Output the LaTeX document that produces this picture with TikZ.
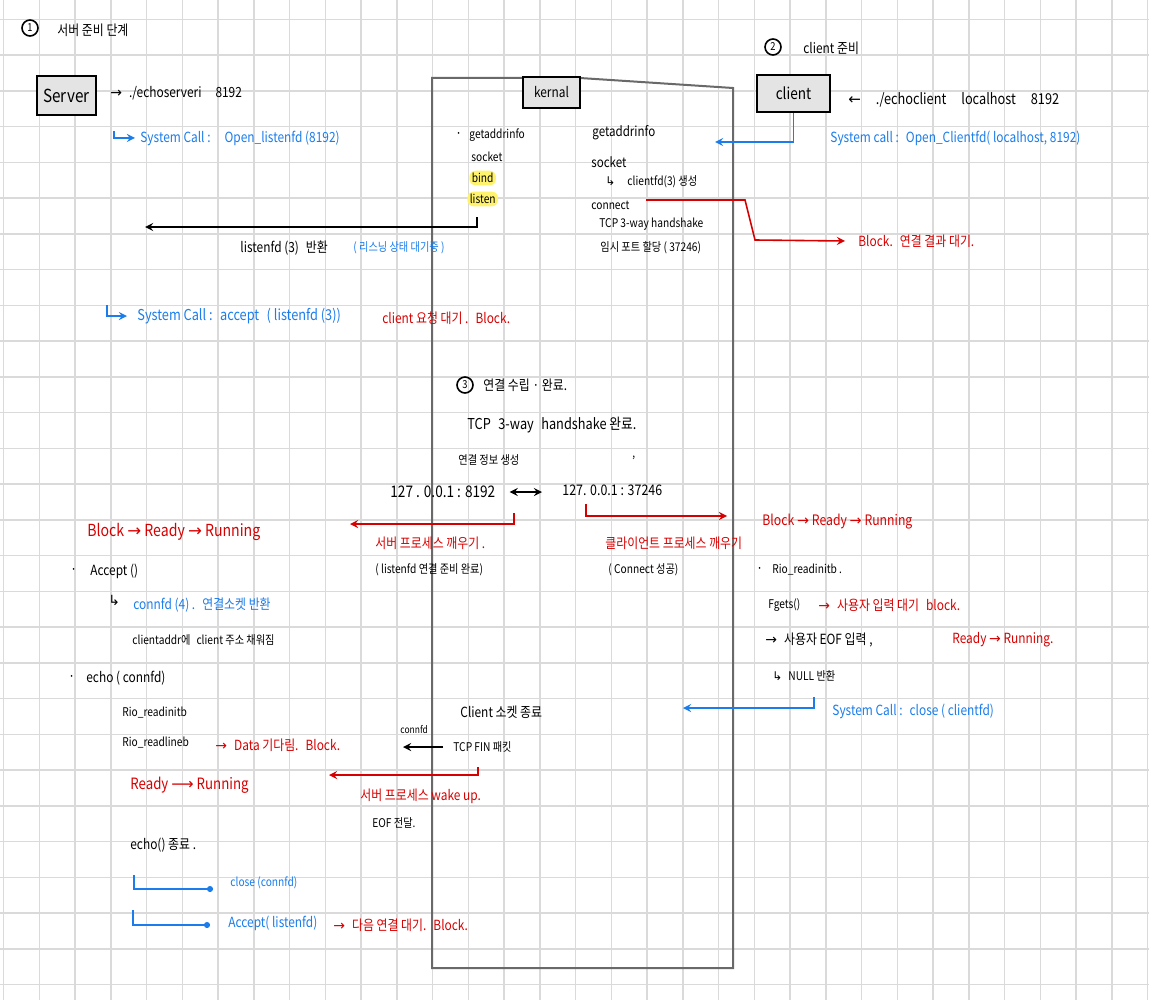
\documentclass[tikz,border=0pt]{standalone}
\usepackage{fontspec}
\setmainfont[FakeStretch=0.85]{Noto Sans CJK KR}
\newfontfamily\arwfont{DejaVu Sans}
\usetikzlibrary{calc}
\usetikzlibrary{arrows.meta}

\definecolor{blueink}{RGB}{26,125,235}
\definecolor{redink}{RGB}{215,0,0}
\definecolor{gridgray}{RGB}{218,218,218}
\definecolor{kgray}{RGB}{105,105,105}
\definecolor{boxfill}{RGB}{228,228,228}
\definecolor{hilite}{RGB}{255,243,110}

\begin{document}
\begin{tikzpicture}[x=0.5pt, y=-0.5pt, >=stealth,
    note/.style={anchor=west, inner sep=0pt, font=\fontsize{7}{8}\selectfont},
    small/.style={font=\fontsize{6}{7}\selectfont},
    big/.style={font=\fontsize{8.3}{9}\selectfont},
    sys/.style={text=blueink},
    warn/.style={text=redink},
    box/.style={draw, fill=boxfill, line width=1pt, inner sep=0pt},
    numcirc/.style={circle, draw, line width=0.8pt, inner sep=0pt, minimum size=8pt, font=\fontsize{5.5}{6}\selectfont},
    hl/.style={fill=hilite, rounded corners=3pt, inner sep=1.2pt},
    gridline/.style={draw=gridgray, line width=0.75pt},
    kline/.style={draw=kgray, line width=1pt},
    bluelink/.style={draw=blueink, line width=0.8pt, ->},
    bluedot/.style={draw=blueink, line width=0.8pt, -{Circle[length=3pt]}},
    redlink/.style={draw=redink, line width=0.8pt, ->},
    blklink/.style={draw=black, line width=0.8pt, ->}]

    \fill[white] (0,0) rectangle (1149,1000);
    \useasboundingbox (0,0) rectangle (1149,1000);

    \foreach \i in {0,...,32} {
        \draw[gridline] ({3.5+35.75*\i}, 0) -- ({3.5+35.75*\i}, 1000);
    }
    \foreach \j in {0,...,27} {
        \draw[gridline] (0, {19.3+35.75*\j}) -- (1149, {19.3+35.75*\j});
    }

    % kernel
    \draw[kline] (432,78) -- (580,78) -- (733,88) -- (733,968) -- (432,968) -- cycle;
    \node[box, minimum width=28.5pt, minimum height=15.5pt, font=\fontsize{7}{8}\selectfont] (kernal) at (551.5,92.5) {kernal};

    \node[note] (kdot) at (455,135) {·};
    \node[note, small] (kgai) at (469,135) {getaddrinfo};
    \node[note, small] (ksock) at (471,157) {socket};
    \node[note, small, hl] (kbind) at (469,178) {bind};
    \node[note, small, hl] (klisten) at (467,199) {listen};

    \node[note, font=\fontsize{6.8}{7}\selectfont] (cgai) at (592,133) {getaddrinfo};
    \node[note, font=\fontsize{6.8}{7}\selectfont] (csock) at (591,162) {socket};
    \node[note, small] (cfd) at (605,182) {{\arwfont ↳}\quad clientfd(3) 생성};
    \node[note, small] (cconn) at (591,205) {connect};
    \node[note, small] (chs) at (599,224) {TCP 3-way handshake};
    \node[note, small] (cport) at (600,248) {임시 포트 할당 ( 37246)};

    % server side
    \node[numcirc] (n1) at (30,28) {1};
    \node[note] (t1) at (57,30) {서버 준비 단계};
    \node[box, minimum width=29.5pt, minimum height=19.5pt, font=\fontsize{9}{10}\selectfont] (server) at (66.5,95.5) {Server};
    \node[note] (srvcmd) at (110,93) {{\arwfont →}\enspace ./echoserveri\quad 8192};

    \coordinate (s1) at (114,131);
    \node[note, sys] (sysopen) at (140,138) {System Call :\quad Open\_listenfd (8192)};
    \draw[bluelink] (s1) |- ($(sysopen.west)+(-5,0)$);

    \coordinate (lret) at (477,217);
    \coordinate (lretend) at (145,227);
    \draw[blklink] (lret) |- (lretend);
    \node[note] (listenret) at (240,248) {listenfd (3)\enspace 반환};
    \node[note, small, sys] (listenwait) at (353,248) {( 리스닝 상태 대기중 )};

    \coordinate (s2) at (107,305);
    \node[note, sys, font=\fontsize{7.5}{8}\selectfont] (sysaccept) at (137,316) {System Call :\enspace accept\enspace ( listenfd (3))};
    \draw[bluelink] (s2) |- ($(sysaccept.west)+(-10,0)$);
    \node[note, warn] (acceptwait) at (382,318) {client 요청 대기 .\enspace Block.};

    % client side
    \node[numcirc] (n2) at (773,47) {2};
    \node[note] (t2) at (803,48) {client 준비};
    \node[box, minimum width=36.5pt, minimum height=18.5pt, font=\fontsize{8}{9}\selectfont] (client) at (793.5,93.5) {client};
    \node[note, font=\fontsize{7.5}{8}\selectfont] (clicmd) at (848,100) {{\arwfont ←}\quad ./echoclient\quad localhost\quad 8192};
    \coordinate (clilinkend) at (715,142);
    \draw[bluelink] (client.south) |- (clilinkend);
    \node[note, sys] (sysclient) at (830,138) {System call :\enspace Open\_Clientfd( localhost, 8192)};

    \coordinate (c1) at (646,200);
    \node[note, warn] (blockwait) at (858,241) {Block.\enspace 연결 결과 대기.};
    \draw[redlink] (c1) -- (745,200) -- (755,240) -- ($(blockwait.west)+(-13,0)$);

    % connection
    \node[numcirc] (n3) at (465,385) {3};
    \node[note] (t3) at (483,385) {연결 수립 · 완료.};
    \node[note, font=\fontsize{7.5}{8}\selectfont] (hsdone) at (467,425) {TCP\enspace 3-way\enspace handshake 완료.};
    \node[note, small] (cinfo) at (458,460) {연결 정보 생성};
    \node[note, small] (comma) at (632,458) {,};
    \node[note, font=\fontsize{8}{9}\selectfont] (srvaddr) at (390,492) {127 . 0.0.1 : 8192};
    \node[note, font=\fontsize{7.3}{8}\selectfont] (cliaddr) at (562,490) {127. 0.0.1 : 37246};
    \draw[line width=0.8pt, <->] ($(srvaddr.east)+(14,0)$) -- ($(cliaddr.west)+(-20,2)$);

    \coordinate (r1) at (514,513);
    \coordinate (r1end) at (350,524);
    \draw[redlink] (r1) |- (r1end);
    \node[note, warn] (wakesrv) at (375,543) {서버 프로세스 깨우기 .};
    \node[note, small] (lready) at (375,570) {( listenfd 연결 준비 완료)};

    \coordinate (r2) at (586,504);
    \coordinate (r2end) at (727,516);
    \draw[redlink] (r2) |- (r2end);
    \node[note, warn] (wakecli) at (605,543) {클라이언트 프로세스 깨우기};
    \node[note, small] (connok) at (608,570) {( Connect 성공)};

    % server after accept
    \node[note, warn, big] (lstate) at (87,532) {Block {\arwfont →} Ready {\arwfont →} Running};
    \node[note] (accdot) at (70,571) {·};
    \node[note] (accept) at (90,571) {Accept ()};
    \node[note] (connarw) at (108,600) {\arwfont ↳};
    \node[note, sys] (connfd) at (133,605) {connfd (4) .\enspace 연결소켓 반환};
    \node[note, small] (caddr) at (132,640) {clientaddr에\enspace client 주소 채워짐};
    \node[note] (echodot) at (68,678) {·};
    \node[note] (echo) at (86,678) {echo ( connfd)};
    \node[note, small] (rinit) at (122,713) {Rio\_readinitb};
    \node[note, small] (rline) at (122,743) {Rio\_readlineb};
    \node[note, warn] (datawait) at (215,745) {{\arwfont →}\enspace Data 기다림.\enspace Block.};
    \node[note, warn, font=\fontsize{7.8}{9}\selectfont] (lready2) at (130,785) {Ready {\arwfont ⟶} Running};
    \node[note] (echoend) at (130,845) {echo() 종료 .};

    \coordinate (b1) at (134,875);
    \coordinate (b1end) at (213,889);
    \draw[bluedot] (b1) |- (b1end);
    \node[note, sys, small] (closeconn) at (230,883) {close (connfd)};
    \coordinate (b2) at (133,910);
    \coordinate (b2end) at (210,925);
    \draw[bluedot] (b2) |- (b2end);
    \node[note, sys] (nextacc) at (228,923) {Accept( listenfd)};
    \node[note, warn] (nextwait) at (333,925) {{\arwfont →}\enspace 다음 연결 대기.\enspace Block.};

    % close
    \node[note] (clclose) at (460,712) {Client 소켓 종료};
    \node[note, font=\fontsize{5}{6}\selectfont] (connfdlbl) at (400,730) {connfd};
    \node[note, small] (fin) at (453,747) {TCP FIN 패킷};
    \coordinate (finend) at (403,747);
    \draw[blklink, shorten <=5pt] (fin.west) -- (finend);
    \coordinate (r3) at (478,767);
    \coordinate (r3end) at (329,775);
    \draw[redlink] (r3) |- (r3end);
    \node[note, warn] (wakeup) at (360,796) {서버 프로세스 wake up.};
    \node[note, small] (eof) at (372,823) {EOF 전달.};

    % client after connect
    \node[note, warn, font=\fontsize{7.2}{8}\selectfont] (rstate) at (762,522) {Block {\arwfont →} Ready {\arwfont →} Running};
    \node[note] (rdot) at (756,570) {·};
    \node[note, small] (rrinit) at (772,570) {Rio\_readinitb .};
    \node[note, small] (fgets) at (768,605) {Fgets()};
    \node[note, warn] (inwait) at (818,605) {{\arwfont →}\enspace 사용자 입력 대기\enspace block.};
    \node[note] (eofin) at (765,640) {{\arwfont →}\enspace 사용자 EOF 입력 ,};
    \node[note, warn] (rready) at (952,640) {Ready {\arwfont →} Running.};
    \node[note, small] (nullret) at (772,676) {{\arwfont ↳}\enspace NULL 반환};
    \coordinate (b3) at (814,697);
    \coordinate (b3end) at (683,708);
    \draw[bluelink] (b3) |- (b3end);
    \node[note, sys] (sysclose) at (832,711) {System Call :\enspace close ( clientfd)};
\end{tikzpicture}
\end{document}
